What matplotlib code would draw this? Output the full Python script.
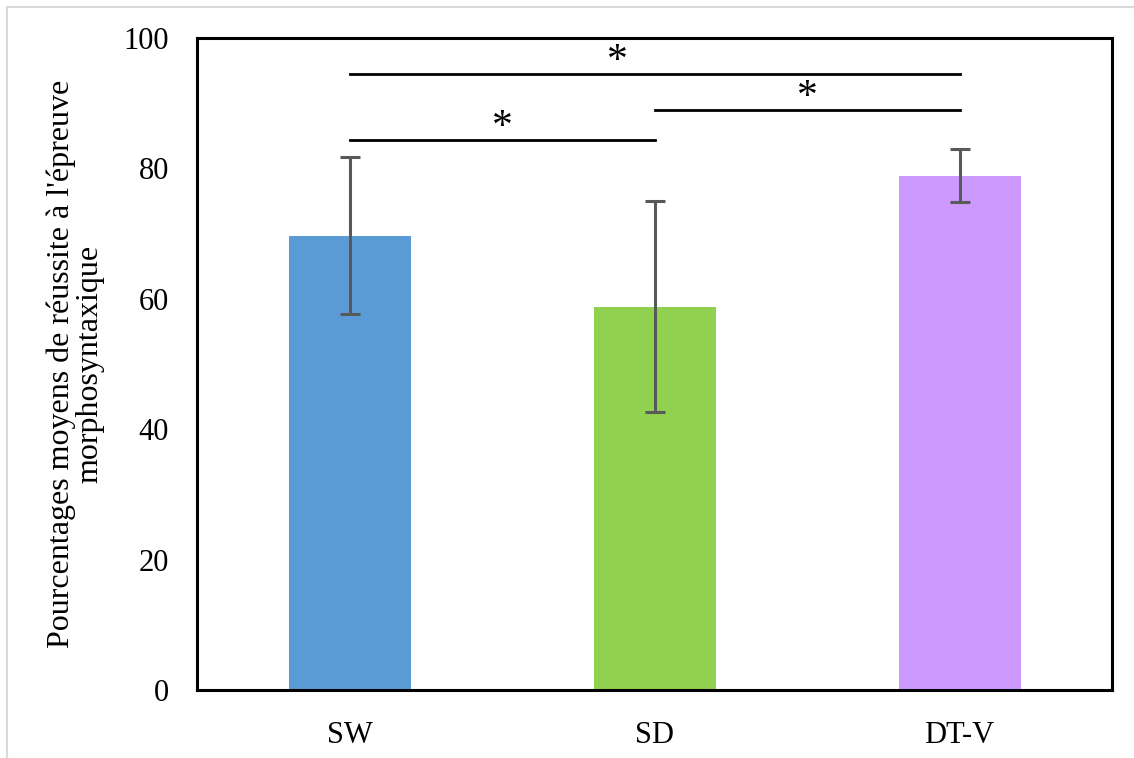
import matplotlib
matplotlib.use("Agg")
import matplotlib.pyplot as plt
from matplotlib.patches import Rectangle

groups = ["SW", "SD", "DT-V"]
means = [69.7, 58.8, 78.9]
errors = [12.0, 16.2, 4.0]
colors = ["#5B9BD5", "#92D050", "#CC99FF"]

# significance brackets: (from group, to group, height, star x)
sig_pairs = [(0, 2, 94.5, 0.88), (1, 2, 89.0, 1.5), (0, 1, 84.4, 0.5)]

plt.rcParams["font.family"] = ["Liberation Serif", "DejaVu Serif"]

fig = plt.figure(figsize=(11.34, 7.58), dpi=100)
fig.patches.append(Rectangle((7 / 1134, -0.1), 1.2, 1 - 7 / 758 + 0.1,
                             transform=fig.transFigure, fill=False,
                             edgecolor="#D9D9D9", linewidth=1.5))
ax = fig.add_axes([197 / 1134, 1 - 690 / 758, (1112 - 197) / 1134, (690 - 38) / 758])

x = list(range(len(groups)))
ax.bar(x, means, width=0.40, color=colors, zorder=2)
ax.errorbar(x, means, yerr=errors, fmt="none", ecolor="#595959",
            elinewidth=2.2, capsize=7, capthick=2.2, zorder=3)

for a, b, h, sx in sig_pairs:
    ax.plot([a, b], [h, h], color="black", linewidth=2, zorder=3)
    ax.text(sx, h + 0.3, "*", ha="center", va="baseline", fontsize=30)

ax.set_xlim(-0.5, 2.5)
ax.set_ylim(0, 100)
ax.set_yticks([0, 20, 40, 60, 80, 100])
ax.set_xticks(x)
ax.set_xticklabels(groups)
ax.tick_params(axis="both", length=0, labelsize=22)
ax.tick_params(axis="y", pad=20)
ax.tick_params(axis="x", pad=22)
for s in ax.spines.values():
    s.set_linewidth(2.2)

ax.set_ylabel("Pourcentages moyens de réussite à l'épreuve\nmorphosyntaxique",
              fontsize=23, labelpad=14, linespacing=0.95)

fig.savefig("out.png", dpi=100)
